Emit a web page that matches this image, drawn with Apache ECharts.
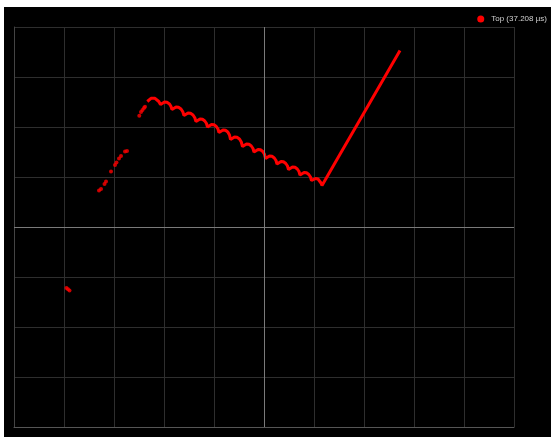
<!DOCTYPE html>
<html>
<head>
<meta charset="utf-8">
<script src="https://cdn.jsdelivr.net/npm/echarts@6/dist/echarts.min.js"></script>
<style>
html,body{margin:0;padding:0;background:#ffffff;width:551px;height:437px;overflow:hidden;}
#chart{position:absolute;left:4px;top:7px;width:547px;height:430px;background:#000;}
</style>
</head>
<body>
<div id="chart"></div>
<script>
// Series name
var seriesName = 'Top (37.208 µs)';

// Axis ranges (arbitrary screen units: 10 x 8 divisions of 50)
var xTicks = [0, 50, 100, 150, 200, 250, 300, 350, 400, 450, 500];
var yTicks = [-200, -150, -100, -50, 0, 50, 100, 150, 200];

// Sparse dots (early part of the trace)
var dotsA = [[52.5, -61], [54, -62.3], [55.5, -63.5]];
var dotsB = [[85, 36.5], [87, 38], [90.5, 43], [92, 45.5], [97, 55.5], [101, 62], [102.5, 64.5],
             [105, 68.5], [107, 71], [111, 75.5], [113, 76]];
var dotsC = [[125.3, 111.3], [127, 115], [128.5, 117], [130, 119], [131, 120.3]];

// Continuous scalloped trace and final ramp
var traceX = [133.3,135,137,139,141,143,144.8,146.5,
  148,150.5,153,155.5,157,158,
  159.5,162,164.5,167,168.8,170,
  171.5,174,176.5,179,180.8,182,
  183.5,186,188.5,190.8,192.5,193.5,
  195,197.5,200,202.3,204,205,
  206.5,209,211.5,213.8,215.5,216.5,
  218,220.5,223,225.5,227.3,228.5,
  230,232.5,235,237.3,239,240,
  241.5,244,246.5,248.8,250.5,251.5,
  253,255.5,258,260.3,262,263,
  264.5,267,269.5,271.8,273.5,274.5,
  276,278.5,281,283.3,285,286,
  287.5,290,292.5,294.8,296.5,297.5,
  299,301.5,304,306,307,308,
  327,347,386];
var traceY = [125.5,127.5,128.7,129,128.7,127.5,125.5,122.5,
  124.2,125,124.7,123,120.5,117.5,
  119.2,120,119.7,118,115.2,111.5,
  113.2,114,113.7,112,109.2,105.5,
  107.2,108,107.7,106,103.5,100,
  101.7,102.5,102.2,100.5,98,94.5,
  96.2,97,96.7,95,92,87.5,
  89.2,90,89.7,88,85,80.5,
  82.2,83,82.7,81,78.5,75,
  76.7,77.5,77.2,75.5,72.7,68.5,
  70.2,71,70.7,69,66.5,63,
  64.7,65.5,65.2,63.5,61,57.5,
  59.2,60,59.7,58,55.5,52,
  53.7,54.5,54.2,52.5,50,46.5,
  48,48.5,48,46,44,41.5,
  74.5,109,176.5];

var traceData = traceX.map(function (x, i) { return [x, traceY[i]]; });
var dotData = dotsA.concat(dotsB, dotsC);

var chart = echarts.init(document.getElementById('chart'));
chart.setOption({
  backgroundColor: '#000000',
  animation: false,
  legend: {
    right: 4, top: 8, padding: 0,
    icon: 'circle', itemWidth: 7, itemHeight: 7, itemGap: 5,
    textStyle: { color: '#d0d0d0', fontSize: 8, fontFamily: 'Liberation Sans, Arial, sans-serif', padding: [0, 0, 0, 2] },
    data: [seriesName]
  },
  grid: { left: 10, top: 20, width: 500, height: 400, containLabel: false },
  xAxis: {
    type: 'value', min: xTicks[0], max: xTicks[xTicks.length - 1], interval: 50,
    axisLabel: { show: false }, axisTick: { show: false },
    axisLine: { show: true, onZero: false, lineStyle: { color: '#555555', width: 1 } },
    splitLine: { show: true, lineStyle: { color: '#2e2e2e', width: 1 } }
  },
  yAxis: {
    type: 'value', min: yTicks[0], max: yTicks[yTicks.length - 1], interval: 50,
    axisLabel: { show: false }, axisTick: { show: false },
    axisLine: { show: true, onZero: false, lineStyle: { color: '#444444', width: 1 } },
    splitLine: { show: true, lineStyle: { color: '#2e2e2e', width: 1 } }
  },
  series: [
    {
      name: seriesName, type: 'line', data: traceData,
      showSymbol: false, symbol: 'circle',
      lineStyle: { color: '#ff0000', width: 3 },
      itemStyle: { color: '#ff0000' },
      markLine: {
        silent: true, symbol: ['none', 'none'], label: { show: false },
        lineStyle: { color: '#7a7a7a', width: 1, type: 'solid' },
        data: [{ xAxis: 250 }, { yAxis: 0 }]
      },
      z: 3
    },
    {
      name: seriesName, type: 'scatter', data: dotData,
      symbol: 'circle', symbolSize: 4,
      itemStyle: { color: '#ff0000' },
      z: 3
    }
  ]
});
</script>
</body>
</html>
